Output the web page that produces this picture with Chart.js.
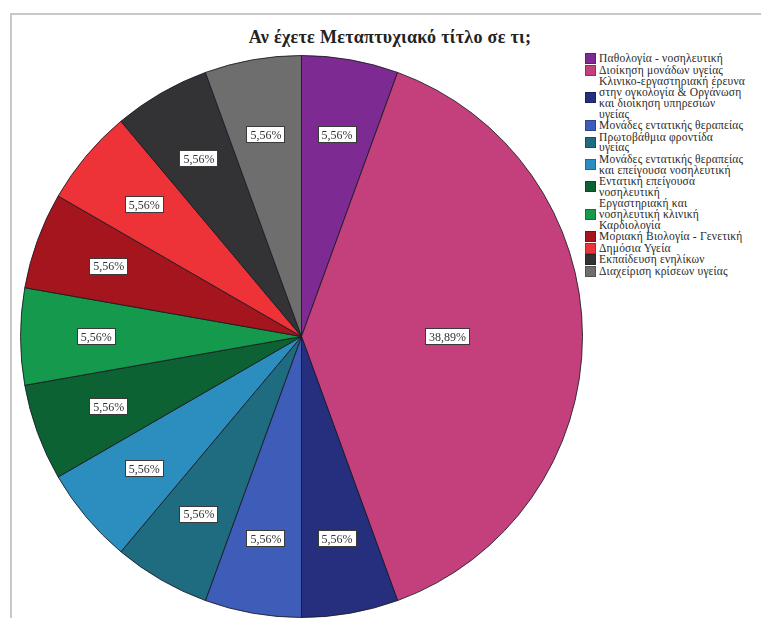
<!DOCTYPE html>
<html>
<head>
<meta charset="utf-8">
<script src="https://cdn.jsdelivr.net/npm/chart.js@4.4.1/dist/chart.umd.min.js"></script>
<style>
  html, body { margin: 0; padding: 0; background: #fff; }
  body { width: 761px; height: 618px; position: relative; overflow: hidden; }
  .frame {
    position: absolute; left: 10px; top: 13px; width: 800px; height: 700px;
    border: 2px solid #c8c8c8; box-sizing: border-box;
  }
  .title {
    position: absolute; left: 180px; top: 27px; width: 420px; text-align: center;
    font: bold 18px "Liberation Serif", "DejaVu Serif", serif; color: #222;
    letter-spacing: 0.3px;
  }
  .chart-box { position: absolute; left: 20px; top: 55px; width: 563px; height: 563px; }
  #legend { position: absolute; left: 585px; top: 53px; width: 220px; }
  .lg-item { display: flex; align-items: center; margin-bottom: 0.6px; }
  .lg-box { width: 11px; height: 11px; flex: none; margin-right: 3px; border: 1px solid rgba(0,0,0,0.25); box-sizing: border-box; }
  .lg-text { font: 11.5px/10.8px "Liberation Serif", "DejaVu Serif", serif; color: #2a2a2a; white-space: nowrap; letter-spacing: 0.2px; }
</style>
</head>
<body>
<div class="frame"></div>
<div class="title">Αν έχετε Μεταπτυχιακό τίτλο σε τι;</div>
<div class="chart-box"><canvas id="pie"></canvas></div>
<div id="legend"></div>
<script>
// Categories (each entry is the wrapped lines of the legend label)
const categories = [
  ['Παθολογία - νοσηλευτική'],
  ['Διοίκηση μονάδων υγείας'],
  ['Κλινικο-εργαστηριακή έρευνα', 'στην ογκολογία & Οργάνωση', 'και διοίκηση υπηρεσιών', 'υγείας'],
  ['Μονάδες εντατικής θεραπείας'],
  ['Πρωτοβάθμια φροντίδα', 'υγείας'],
  ['Μονάδες εντατικής θεραπείας', 'και επείγουσα νοσηλευτική'],
  ['Εντατική επείγουσα', 'νοσηλευτική'],
  ['Εργαστηριακή και', 'νοσηλευτική κλινική', 'Καρδιολογία'],
  ['Μοριακή Βιολογία - Γενετική'],
  ['Δημόσια Υγεία'],
  ['Εκπαίδευση ενηλίκων'],
  ['Διαχείριση κρίσεων υγείας'],
];

// Respondents per category
const counts = [1, 7, 1, 1, 1, 1, 1, 1, 1, 1, 1, 1];

const colors = [
  '#7d2b92', '#c4407c', '#262e7e', '#3e5db8', '#1f6b80', '#2b8ebf',
  '#0c6232', '#159a4d', '#a5151d', '#ee3338', '#333336', '#6e6e6e',
];

const total = counts.reduce((a, b) => a + b, 0);

function pctLabel(v) {
  return (v / total * 100).toFixed(2).replace('.', ',') + '%';
}

// ── Boxed percentage labels inside slices ─────────────
const sliceLabels = {
  id: 'sliceLabels',
  afterDatasetsDraw(chart) {
    const ctx = chart.ctx;
    const meta = chart.getDatasetMeta(0);
    ctx.save();
    ctx.font = '12px "Liberation Serif", "DejaVu Serif", serif';
    ctx.textAlign = 'center';
    ctx.textBaseline = 'middle';
    meta.data.forEach((arc, i) => {
      const v = counts[i];
      const p = arc.getProps(['x', 'y', 'startAngle', 'endAngle', 'outerRadius'], true);
      const mid = (p.startAngle + p.endAngle) / 2;
      const frac = v / total > 0.2 ? 0.52 : 0.73;
      const x = p.x + Math.cos(mid) * p.outerRadius * frac;
      const y = p.y + Math.sin(mid) * p.outerRadius * frac;
      const txt = pctLabel(v);
      const w = Math.round(ctx.measureText(txt).width + 8);
      const h = 17;
      const bx = Math.round(x - w / 2), by = Math.round(y - h / 2);
      ctx.fillStyle = '#ffffff';
      ctx.fillRect(bx, by, w, h);
      ctx.strokeStyle = '#3a3a3a';
      ctx.lineWidth = 1;
      ctx.strokeRect(bx + 0.5, by + 0.5, w - 1, h - 1);
      ctx.fillStyle = '#333';
      ctx.fillText(txt, x, y + 1);
    });
    ctx.restore();
  }
};

new Chart(document.getElementById('pie'), {
  type: 'pie',
  data: {
    labels: categories,
    datasets: [{
      data: counts,
      backgroundColor: colors,
      borderColor: 'rgba(25,25,35,0.85)',
      borderWidth: 1,
    }],
  },
  options: {
    responsive: true,
    maintainAspectRatio: false,
    animation: false,
    layout: { padding: 0 },
    plugins: {
      legend: { display: false },
      tooltip: { enabled: false },
    },
  },
  plugins: [sliceLabels],
});

// ── Legend ───────────────────────────────────────────
const legendEl = document.getElementById('legend');
categories.forEach((lines, i) => {
  const item = document.createElement('div');
  item.className = 'lg-item';
  item.innerHTML = `<div class="lg-box" style="background:${colors[i]}"></div>
    <div class="lg-text">${lines.map(l => l.replace('&', '&amp;')).join('<br>')}</div>`;
  legendEl.appendChild(item);
});
</script>
</body>
</html>
